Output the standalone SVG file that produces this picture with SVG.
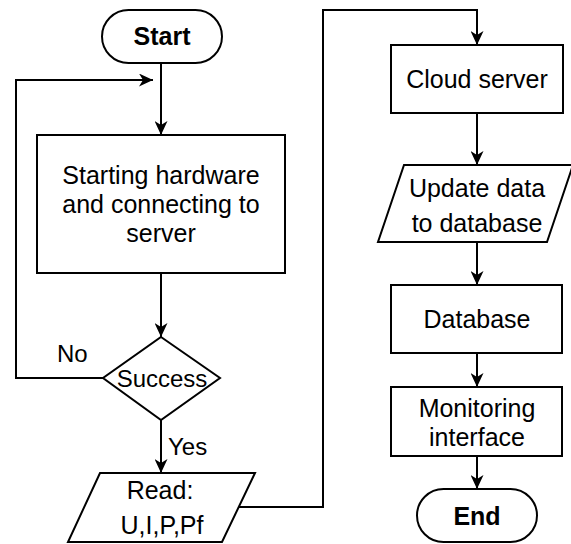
<svg xmlns="http://www.w3.org/2000/svg" width="571" height="544" viewBox="0 0 571 544">
<style>
.s{fill:#fff;stroke:#000;stroke-width:2}
.t{font-family:"Liberation Sans",Arial,sans-serif;font-size:25px;fill:#000;text-anchor:middle}
.b{font-weight:bold}
.l{font-family:"Liberation Sans",Arial,sans-serif;font-size:24px;fill:#000}
.c{fill:none;stroke:#000;stroke-width:2;marker-end:url(#ah)}
</style>
<defs>
<marker id="ah" viewBox="0 0 14 13" refX="14" refY="6.5" markerWidth="14" markerHeight="13" markerUnits="userSpaceOnUse" orient="auto">
<path d="M0,0 L14,6.5 L0,13 L4,6.5 Z" fill="#000"/>
</marker>
</defs>
<rect width="571" height="544" fill="#fff"/>
<g id="connectors">
<path class="c" d="M161,63 V135"/>
<path class="c" d="M103,378 H16 V80 H153"/>
<path class="c" d="M161,273 V337"/>
<path class="c" d="M161,420 V473"/>
<path class="c" d="M239,507 H323 V10 H477 V45"/>
<path class="c" d="M477,113 V165"/>
<path class="c" d="M477,242 V285"/>
<path class="c" d="M477,353 V387"/>
<path class="c" d="M477,456 V489"/>
<text class="l" x="57" y="362">No</text>
<text class="l" x="168" y="455">Yes</text>
</g>
<g id="start">
<rect class="s" x="102" y="10" width="120" height="53" rx="26.5"/>
<text class="t b" x="162" y="45">Start</text>
</g>
<g id="init">
<rect class="s" x="37" y="135" width="248" height="138"/>
<text class="t" x="161" y="184">Starting hardware</text>
<text class="t" x="161" y="213">and connecting to</text>
<text class="t" x="161" y="242">server</text>
</g>
<g id="success">
<polygon class="s" points="161,337 220,378 161,420 103,378"/>
<text class="l" x="162" y="387" text-anchor="middle">Success</text>
</g>
<g id="read">
<polygon class="s" points="100,473 255,473 222,542 68,542"/>
<text class="t" x="160" y="499">Read:</text>
<text class="t" x="162" y="534">U,I,P,Pf</text>
</g>
<g id="cloud">
<rect class="s" x="391" y="45" width="172" height="68"/>
<text class="t" x="477" y="88">Cloud server</text>
</g>
<g id="update">
<polygon class="s" points="404,165 573,165 547,242 378,242"/>
<text class="t" x="477" y="197">Update data</text>
<text class="t" x="477" y="232">to database</text>
</g>
<g id="database">
<rect class="s" x="391" y="285" width="171" height="68"/>
<text class="t" x="477" y="328">Database</text>
</g>
<g id="monitor">
<rect class="s" x="391" y="387" width="171" height="69"/>
<text class="t" x="477" y="417">Monitoring</text>
<text class="t" x="477" y="446">interface</text>
</g>
<g id="end">
<rect class="s" x="417" y="489" width="120" height="53" rx="26.5"/>
<text class="t b" x="477" y="525">End</text>
</g>
</svg>
